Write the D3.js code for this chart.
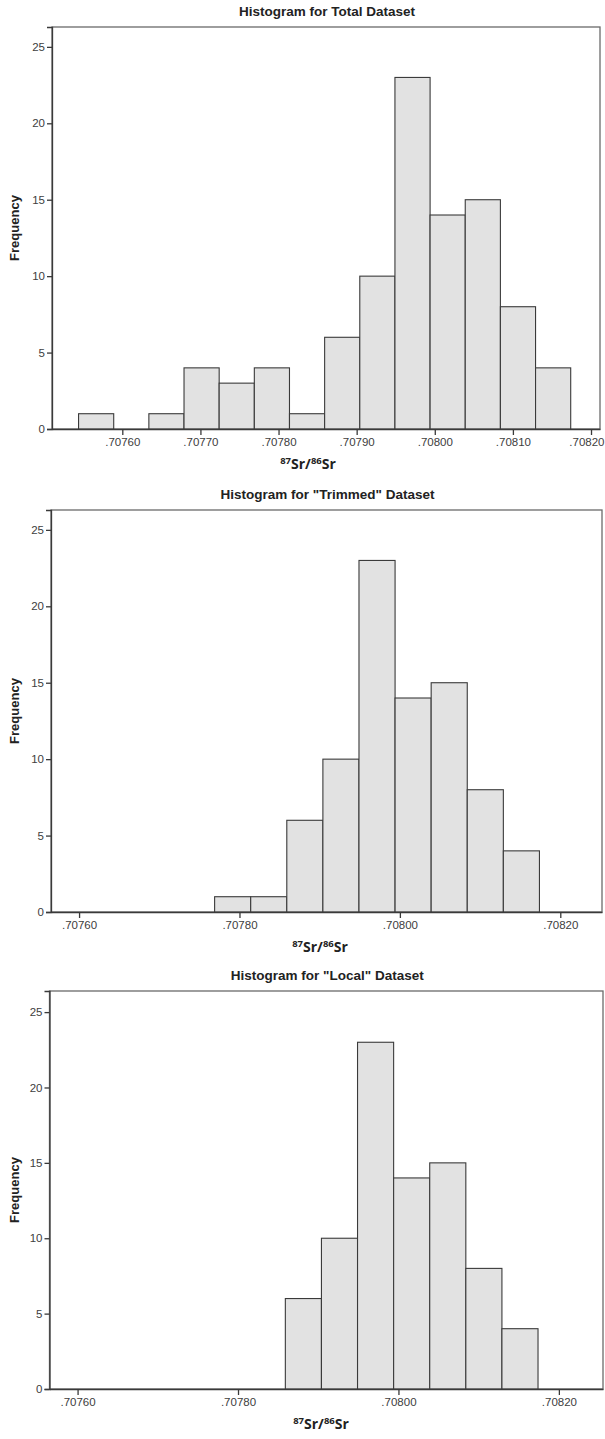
<!DOCTYPE html>
<html>
<head>
<meta charset="utf-8">
<script src="https://cdn.jsdelivr.net/npm/d3@7"></script>
<style>
  html, body { margin: 0; padding: 0; background: #fff; }
  svg { display: block; }
</style>
</head>
<body>
<svg id="chart" width="605" height="1439"></svg>
<script>
// ---------- Data ----------
const titles = ["Histogram for Total Dataset", "Histogram for \"Trimmed\" Dataset", "Histogram for \"Local\" Dataset"];
const yTicks = [0, 5, 10, 15, 20, 25];
const totalTicks = [0.7076, 0.7077, 0.7078, 0.7079, 0.7080, 0.7081, 0.7082];
const subsetTicks = [0.7076, 0.7078, 0.7080, 0.7082];
const totalEdges = [0.707544, 0.707589, 0.707634, 0.707679, 0.707724, 0.707769, 0.707814, 0.707859, 0.707904, 0.707949, 0.707994, 0.708039, 0.708084, 0.708129, 0.708174];
const totalCounts = [1, 0, 1, 4, 3, 4, 1, 6, 10, 23, 14, 15, 8, 4];
const trimmedEdges = [0.707769, 0.707814, 0.707859, 0.707904, 0.707949, 0.707994, 0.708039, 0.708084, 0.708129, 0.708174];
const trimmedCounts = [1, 1, 6, 10, 23, 14, 15, 8, 4];
const localEdges = [0.707859, 0.707904, 0.707949, 0.707994, 0.708039, 0.708084, 0.708129, 0.708174];
const localCounts = [6, 10, 23, 14, 15, 8, 4];

// ---------- Layout ----------
const panels = [
  { title: titles[0], edges: totalEdges, counts: totalCounts, ticks: totalTicks,
    left: 52, right: 600, top: 27, bottom: 429, xDomain: [0.70751, 0.7082115], yMax: 26.3, labelX: 308 },
  { title: titles[1], edges: trimmedEdges, counts: trimmedCounts, ticks: subsetTicks,
    left: 51, right: 602, top: 510, bottom: 912, xDomain: [0.707565, 0.708252], yMax: 26.3, labelX: 320 },
  { title: titles[2], edges: localEdges, counts: localCounts, ticks: subsetTicks,
    left: 49.5, right: 603, top: 991, bottom: 1389, xDomain: [0.707565, 0.708255], yMax: 26.4, labelX: 321 }
];

const svg = d3.select("#chart");
const fmt = v => d3.format(".5f")(v).replace(/^0/, "");
const tickFont = "'Liberation Sans Narrow', 'Arial Narrow', 'Liberation Sans', Arial, sans-serif";

panels.forEach(p => {
  const g = svg.append("g");
  const x = d3.scaleLinear().domain(p.xDomain).range([p.left, p.right]);
  const y = d3.scaleLinear().domain([0, p.yMax]).range([p.bottom, p.top]);

  // frame
  g.append("rect")
    .attr("x", p.left).attr("y", p.top)
    .attr("width", p.right - p.left).attr("height", p.bottom - p.top)
    .attr("fill", "#fff").attr("stroke", "#6a6a6a").attr("stroke-width", 1.3);

  // bars
  const bins = p.counts.map((c, i) => ({ x0: p.edges[i], x1: p.edges[i + 1], c }));
  g.selectAll("rect.bar").data(bins.filter(b => b.c > 0)).join("rect")
    .attr("class", "bar")
    .attr("x", d => x(d.x0)).attr("y", d => y(d.c))
    .attr("width", d => x(d.x1) - x(d.x0)).attr("height", d => y(0) - y(d.c))
    .attr("fill", "#e2e2e2").attr("stroke", "#3a3a3a").attr("stroke-width", 1.1);

  // y axis
  const ya = g.append("g").attr("transform", `translate(${p.left},0)`)
    .call(d3.axisLeft(y).tickValues(yTicks).tickSize(5).tickPadding(2).tickFormat(d3.format("d")));
  ya.select(".domain").attr("stroke", "#3a3a3a").attr("stroke-width", 1.3);
  ya.selectAll(".tick line").attr("stroke", "#3a3a3a").attr("stroke-width", 1.3);
  ya.selectAll("text").attr("font-family", tickFont)
    .attr("font-size", 11.5).attr("fill", "#404040");

  // x axis
  const xa = g.append("g").attr("transform", `translate(0,${p.bottom})`)
    .call(d3.axisBottom(x).tickValues(p.ticks).tickSize(6).tickPadding(3).tickFormat(fmt).tickSizeOuter(0));
  xa.select(".domain").attr("stroke", "#3a3a3a").attr("stroke-width", 1.3);
  xa.selectAll(".tick line").attr("stroke", "#3a3a3a").attr("stroke-width", 1.3);
  xa.selectAll("text").attr("font-family", tickFont)
    .attr("font-size", 11.5).attr("fill", "#404040");
  // keep labels inside the page
  xa.selectAll(".tick").each(function(d) {
    const t = d3.select(this).select("text");
    const w = t.node().getComputedTextLength();
    const cx = x(d);
    if (cx + w / 2 > 604) t.attr("dx", 604 - (cx + w / 2));
  });

  // title
  g.append("text")
    .attr("x", (p.left + p.right) / 2 + 1).attr("y", p.top - 11)
    .attr("text-anchor", "middle")
    .attr("font-family", "Liberation Sans, Arial, sans-serif")
    .attr("font-weight", "bold").attr("font-size", 13.5).attr("fill", "#222")
    .text(p.title);

  // y label
  g.append("text")
    .attr("transform", `translate(19,${(p.top + p.bottom) / 2}) rotate(-90)`)
    .attr("text-anchor", "middle")
    .attr("font-family", "Liberation Sans, Arial, sans-serif")
    .attr("font-weight", "bold").attr("font-size", 13).attr("fill", "#222")
    .text("Frequency");

  // x label with superscripts
  const xl = g.append("text")
    .attr("x", p.labelX).attr("y", p.bottom + 40)
    .attr("text-anchor", "middle")
    .attr("font-family", "Open Sans, Liberation Sans, sans-serif")
    .attr("font-weight", "bold").attr("font-size", 14).attr("fill", "#222");
  xl.append("tspan").attr("font-size", 9.5).attr("dy", -5).text("87");
  xl.append("tspan").attr("dy", 5).text("Sr/");
  xl.append("tspan").attr("font-size", 9.5).attr("dy", -5).text("86");
  xl.append("tspan").attr("dy", 5).text("Sr");
});
</script>
</body>
</html>
